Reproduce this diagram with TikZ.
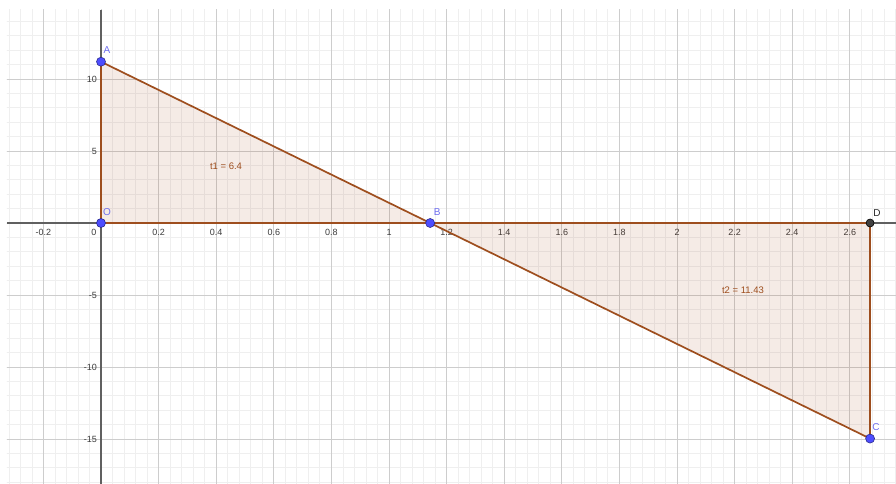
\documentclass[tikz,border=0pt]{standalone}
\usepackage{fontspec}
\setmainfont{Liberation Sans}
\definecolor{gridminor}{RGB}{239,239,239}
\definecolor{gridmajor}{RGB}{205,205,205}
\definecolor{axiscol}{RGB}{96,96,96}
\definecolor{polycol}{RGB}{158,78,30}
\definecolor{fillcol}{RGB}{160,62,14}
\definecolor{ptblue}{RGB}{77,77,255}
\definecolor{lblblue}{RGB}{110,110,240}
\definecolor{ticktext}{RGB}{60,60,60}
\tikzset{
  ticklbl/.style={text=ticktext, font=\fontsize{9}{10}\selectfont, inner sep=0pt},
  edge/.style={draw=polycol, line width=1.7pt, line join=round},
  area/.style={fill=fillcol, fill opacity=0.1},
  ptnode/.style={circle, fill=ptblue, draw=ptblue!55!black, line width=0.6pt, inner sep=0pt, minimum size=9pt},
  ptdark/.style={circle, fill=black!75, draw=black, line width=0.6pt, inner sep=0pt, minimum size=8pt},
  ptlbl/.style={text=lblblue, font=\fontsize{10}{11}\selectfont, inner sep=0pt},
  arealbl/.style={text=polycol, font=\fontsize{9.5}{10}\selectfont, inner sep=0pt}
}
\begin{document}
\begin{tikzpicture}[x=288pt,y=14.4pt]
\useasboundingbox (-101pt,-261pt) rectangle (795pt,223pt);
\fill[white] (-101pt,-261pt) rectangle (795pt,223pt);
% grid
\begin{scope}
\clip (-94pt,-261pt) rectangle (795pt,213pt);
\draw[gridminor, line width=0.7pt, xstep=0.04, ystep=1] (-0.4,-20) grid (2.84,17);
\draw[gridmajor, line width=0.8pt, xstep=0.2, ystep=5] (-0.4,-20) grid (2.84,20);
\end{scope}
% axes
\draw[axiscol, line width=1.3pt] (-94pt,0) -- (795pt,0);
\draw[axiscol, line width=1.3pt] (0,213pt) -- (0,-261pt);
% tick labels
\foreach \v/\t in {-0.2/-0.2, 0.2/0.2, 0.4/0.4, 0.6/0.6, 0.8/0.8, 1/1, 1.2/1.2, 1.4/1.4, 1.6/1.6, 1.8/1.8, 2/2, 2.2/2.2, 2.4/2.4, 2.6/2.6}
  \node[ticklbl] at (\v,-9pt) {\t};
\node[ticklbl] at (-7pt,-9pt) {0};
\foreach \v in {10,5,-5,-10,-15}
  \node[ticklbl, anchor=east] at (-4pt,\v) {\v};
% points
\coordinate (A) at (0,11.2);
\coordinate (O) at (0,0);
\coordinate (B) at (1.142857,0);
\coordinate (C) at (2.6704,-14.97);
\coordinate (D) at (2.6704,0);
% areas
\fill[area] (O) -- (A) -- (B) -- cycle;
\fill[area] (B) -- (D) -- (C) -- cycle;
% edges
\draw[edge] (O) -- (A);
\draw[edge] (A) -- (B);
\draw[edge] (B) -- (O);
\draw[edge] (B) -- (D);
\draw[edge] (D) -- (C);
\draw[edge] (C) -- (B);
% area labels
\node[arealbl] (t1) at (0.434,3.96) {t1 = 6.4};
\node[arealbl] (t2) at (2.229,-4.65) {t2 = 11.43};
% point nodes
\node[ptnode] (nA) at (A) {};
\node[ptnode] (nO) at (O) {};
\node[ptnode] (nB) at (B) {};
\node[ptnode] (nC) at (C) {};
\node[ptdark] (nD) at (D) {};
\node[ptlbl] (lA) at ([shift={(6pt,12pt)}]A) {A};
\node[ptlbl] (lO) at ([shift={(6pt,11pt)}]O) {O};
\node[ptlbl] (lB) at ([shift={(7pt,11pt)}]B) {B};
\node[ptlbl] (lC) at ([shift={(6pt,12pt)}]C) {C};
\node[ptlbl, text=black!85] (lD) at ([shift={(7pt,10pt)}]D) {D};
\end{tikzpicture}
\end{document}
